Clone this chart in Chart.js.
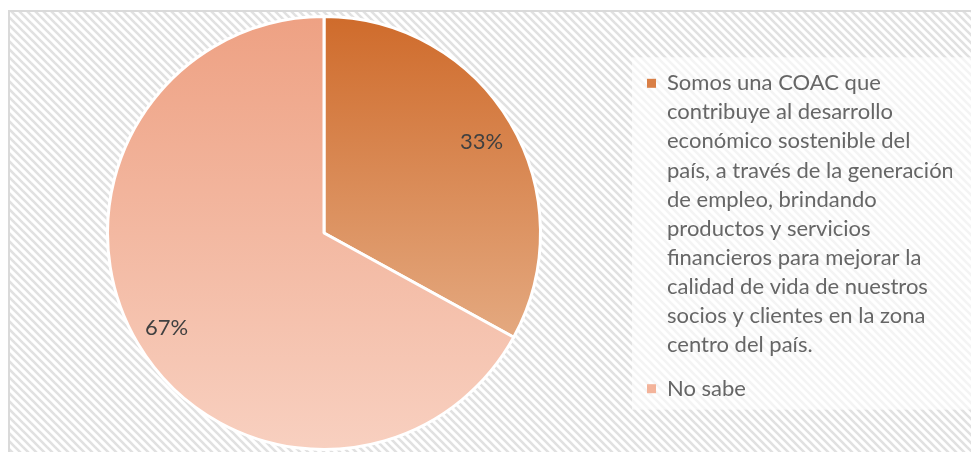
<!DOCTYPE html>
<html>
<head>
<meta charset="utf-8">
<title>Misión COAC</title>
<script src="https://cdn.jsdelivr.net/npm/chart.js@4/dist/chart.umd.min.js"></script>
<style>
  html, body { margin: 0; padding: 0; background: #fff; }
  #wrap { position: relative; width: 971px; height: 452px; }
</style>
</head>
<body>
<div id="wrap"><canvas id="chart"></canvas></div>
<script>
// answer categories (first one wrapped over several legend lines)
const categories = [
  ['Somos una COAC que', 'contribuye al desarrollo', 'económico sostenible del',
   'país, a través de la generación', 'de empleo, brindando', 'productos y servicios',
   'financieros para mejorar la', 'calidad de vida de nuestros',
   'socios y clientes en la zona', 'centro del país.'],
  'No sabe'
];
const shares = [33, 67];

const topColors = ['#cf6b2b', '#eea183'];
const bottomColors = ['#e4a980', '#f8d0c0'];
const legendColors = ['#d97f46', '#f3b39a'];

const FONT = 'Lato, "Liberation Sans", sans-serif';

function sum(arr) { return arr.reduce((a, b) => a + b, 0); }

// vertical gradient stretched over each slice's own height
function sliceGradient(context) {
  const chart = context.chart;
  const area = chart.chartArea;
  const i = context.dataIndex;
  if (!area || i === undefined) return topColors[i || 0];
  const cx = (area.left + area.right) / 2;
  const cy = (area.top + area.bottom) / 2;
  const r = Math.min(area.width, area.height) / 2;
  const total = sum(shares);
  const a0 = -Math.PI / 2 + 2 * Math.PI * sum(shares.slice(0, i)) / total;
  const a1 = a0 + 2 * Math.PI * shares[i] / total;
  let minY = cy, maxY = cy;
  for (let k = 0; k <= 90; k++) {
    const y = cy + r * Math.sin(a0 + (a1 - a0) * k / 90);
    minY = Math.min(minY, y);
    maxY = Math.max(maxY, y);
  }
  const g = chart.ctx.createLinearGradient(0, minY, 0, maxY);
  g.addColorStop(0, topColors[i]);
  g.addColorStop(1, bottomColors[i]);
  return g;
}

// hatched panel, thin frame and pale box behind the legend
const panel = {
  id: 'panel',
  beforeDraw(chart) {
    const { ctx, width, height } = chart;
    const tile = document.createElement('canvas');
    tile.width = 8; tile.height = 8;
    const t = tile.getContext('2d');
    t.fillStyle = '#ffffff';
    t.fillRect(0, 0, 8, 8);
    t.strokeStyle = '#e1e1e1';
    t.lineWidth = 2.6;
    for (const off of [-8, 0, 8]) {
      t.beginPath();
      t.moveTo(off - 2, -2);
      t.lineTo(off + 10, 10);
      t.stroke();
    }
    ctx.save();
    ctx.fillStyle = '#ffffff';
    ctx.fillRect(0, 0, width, height);
    ctx.fillStyle = '#dadada';
    ctx.fillRect(8, 10, width - 8, height - 10);
    ctx.fillStyle = ctx.createPattern(tile, 'repeat');
    ctx.fillRect(10, 12, width - 10, height - 12);

    const legend = chart.legend;
    if (legend && legend.legendHitBoxes && legend.legendHitBoxes.length) {
      const boxes = legend.legendHitBoxes;
      const first = boxes[0];
      const last = boxes[boxes.length - 1];
      ctx.fillStyle = 'rgba(255,255,255,0.62)';
      ctx.fillRect(legend.left, first.top - 15, width - legend.left, last.top + last.height - first.top + 25);
    }
    ctx.restore();
  }
};

// percentage labels placed along each slice's middle angle
const sliceLabels = {
  id: 'sliceLabels',
  afterDatasetsDraw(chart) {
    const { ctx } = chart;
    const meta = chart.getDatasetMeta(0);
    const total = sum(shares);
    ctx.save();
    ctx.font = '22px ' + FONT;
    ctx.fillStyle = '#404040';
    ctx.textAlign = 'center';
    ctx.textBaseline = 'middle';
    meta.data.forEach((arc, i) => {
      const p = arc.getProps(['x', 'y', 'startAngle', 'endAngle', 'outerRadius'], true);
      const mid = (p.startAngle + p.endAngle) / 2;
      const d = p.outerRadius * 0.845;
      ctx.fillText(Math.round(shares[i] / total * 100) + '%', p.x + Math.cos(mid) * d, p.y + Math.sin(mid) * d + 2);
    });
    ctx.restore();
  }
};

new Chart(document.getElementById('chart'), {
  type: 'pie',
  data: {
    labels: categories,
    datasets: [{
      data: shares,
      backgroundColor: sliceGradient,
      borderColor: '#ffffff',
      borderWidth: 3
    }]
  },
  options: {
    responsive: true,
    maintainAspectRatio: false,
    animation: false,
    layout: { padding: { left: 16, right: 19, top: 15, bottom: 1 } },
    plugins: {
      tooltip: { enabled: false },
      legend: {
        position: 'right',
        maxWidth: 320,
        // empty title only nudges the entries down a little
        title: { display: true, text: '', font: { size: 1, lineHeight: 1 }, padding: { top: 5, bottom: 0 } },
        labels: {
          boxWidth: 9,
          boxHeight: 9,
          padding: 15,
          color: '#595959',
          font: { family: FONT, size: 22, lineHeight: 1.32 },
          generateLabels: (chart) => chart.data.labels.map((text, i) => ({
            text,
            fillStyle: legendColors[i],
            strokeStyle: legendColors[i],
            lineWidth: 0,
            hidden: false,
            index: i
          }))
        }
      }
    }
  },
  plugins: [panel, sliceLabels]
});
</script>
</body>
</html>
